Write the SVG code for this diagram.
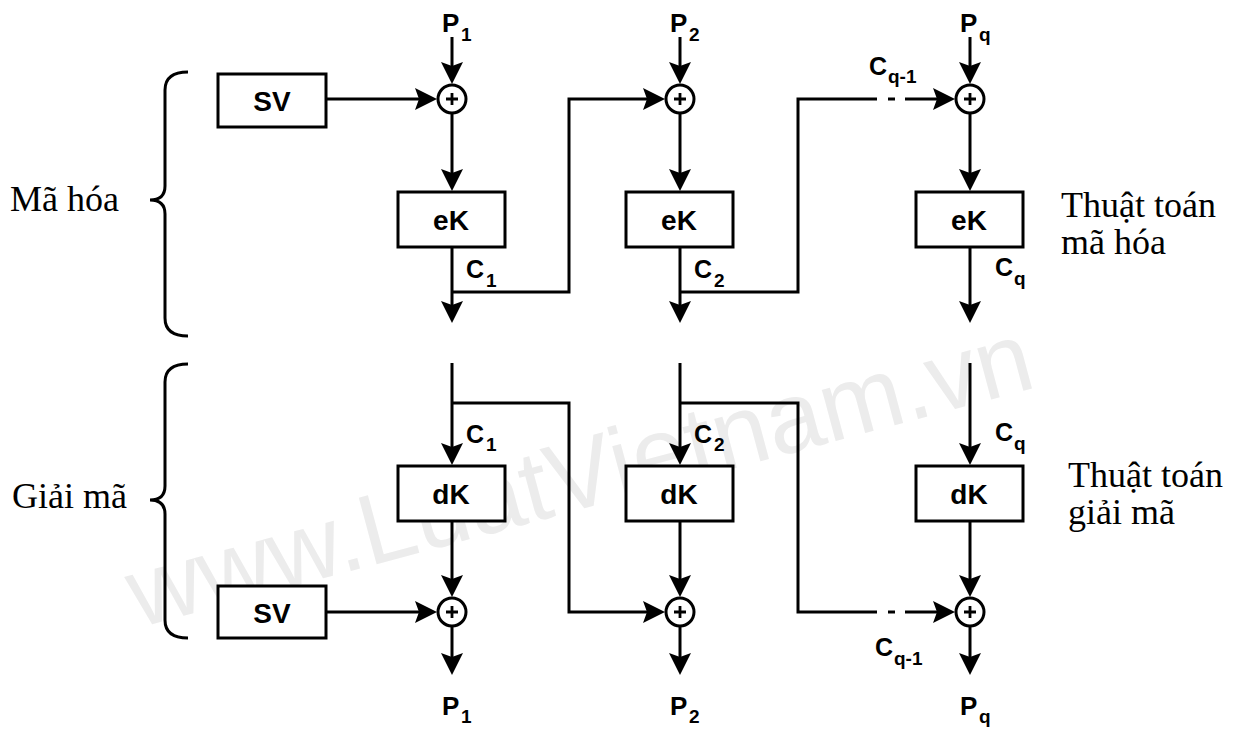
<svg xmlns="http://www.w3.org/2000/svg" width="1234" height="729" viewBox="0 0 1234 729">
  <style>
    .ln { fill: none; stroke: #000; stroke-width: 3; }
    .arr { fill: none; stroke: #000; stroke-width: 3; marker-end: url(#ah); }
    .box { fill: #fff; stroke: #000; stroke-width: 3; }
    .xor { fill: #fff; stroke: #000; stroke-width: 3; }
    .plus { fill: none; stroke: #000; stroke-width: 2.8; }
    .lbl { font-family: "Liberation Sans", Arial, sans-serif; font-size: 26px; font-weight: bold; fill: #000; }
    .bx { font-family: "Liberation Sans", Arial, sans-serif; font-size: 28px; font-weight: bold; fill: #000; text-anchor: middle; }
    .sub { font-family: "Liberation Sans", Arial, sans-serif; font-size: 19px; font-weight: bold; fill: #000; }
    .cl { font-family: "Liberation Sans", Arial, sans-serif; font-size: 25px; font-weight: bold; fill: #000; }
    .vn { font-family: "Liberation Serif", "Times New Roman", serif; font-size: 36px; fill: #000; }
    .wm { font-family: "Liberation Sans", Arial, sans-serif; font-size: 100px; fill: #ececec; }
  </style>
  <defs>
    <marker id="ah" viewBox="0 0 22 22" refX="16" refY="11" markerWidth="22" markerHeight="22" markerUnits="userSpaceOnUse" orient="auto">
      <path d="M0,0 L22,11 L0,22 L4,11 z" fill="#000"/>
    </marker>
    <g id="xorsym">
      <circle class="xor" cx="0" cy="0" r="14"/>
      <path class="plus" d="M-6,0 H6 M0,-6 V6"/>
    </g>
  </defs>
  <rect width="1234" height="729" fill="#fff"/>

  <!-- watermark -->
  <text class="wm" x="138" y="628" transform="rotate(-15 138 628)">www.LuatVietnam.vn</text>

  <!-- braces and section labels -->
  <g id="enc-brace">
    <path class="ln" d="M188,72 Q165,72 165,90 L165,186 Q165,200 150,200 Q165,200 165,214 L165,318 Q165,336 188,336"/>
    <text class="vn" x="10" y="211">Mã hóa</text>
  </g>
  <g id="dec-brace">
    <path class="ln" d="M188,364 Q165,364 165,382 L165,486 Q165,500 150,500 Q165,500 165,514 L165,620 Q165,638 188,638"/>
    <text class="vn" x="12" y="508">Giải mã</text>
  </g>
  <g id="enc-title">
    <text class="vn" x="1061" y="217">Thuật toán</text>
    <text class="vn" x="1061" y="254">mã hóa</text>
  </g>
  <g id="dec-title">
    <text class="vn" x="1068" y="487">Thuật toán</text>
    <text class="vn" x="1068" y="524">giải mã</text>
  </g>

  <!-- connectors -->
  <g id="connectors">
    <!-- encryption -->
    <line class="arr" x1="452" y1="37" x2="452" y2="78"/>
    <line class="arr" x1="680" y1="37" x2="680" y2="78"/>
    <line class="arr" x1="970" y1="37" x2="970" y2="78"/>
    <line class="arr" x1="326" y1="99" x2="431" y2="99"/>
    <line class="arr" x1="452" y1="113" x2="452" y2="185"/>
    <line class="arr" x1="680" y1="113" x2="680" y2="185"/>
    <line class="arr" x1="970" y1="113" x2="970" y2="185"/>
    <line class="arr" x1="452" y1="247" x2="452" y2="317"/>
    <line class="arr" x1="680" y1="247" x2="680" y2="317"/>
    <line class="arr" x1="970" y1="247" x2="970" y2="317"/>
    <polyline class="arr" points="452,292 569,292 569,99 659,99"/>
    <polyline class="ln" points="680,292 798,292 798,99 877,99"/>
    <line class="ln" x1="888" y1="99" x2="895" y2="99"/>
    <line class="arr" x1="905" y1="99" x2="949" y2="99"/>
    <!-- decryption -->
    <line class="arr" x1="452" y1="363" x2="452" y2="459"/>
    <line class="arr" x1="680" y1="363" x2="680" y2="459"/>
    <line class="arr" x1="970" y1="363" x2="970" y2="459"/>
    <line class="arr" x1="452" y1="521" x2="452" y2="591"/>
    <line class="arr" x1="680" y1="521" x2="680" y2="591"/>
    <line class="arr" x1="970" y1="521" x2="970" y2="591"/>
    <line class="arr" x1="326" y1="612" x2="431" y2="612"/>
    <line class="arr" x1="452" y1="626" x2="452" y2="669"/>
    <line class="arr" x1="680" y1="626" x2="680" y2="669"/>
    <line class="arr" x1="970" y1="626" x2="970" y2="669"/>
    <polyline class="arr" points="452,403 569,403 569,612 659,612"/>
    <polyline class="ln" points="680,403 798,403 798,612 877,612"/>
    <line class="ln" x1="888" y1="612" x2="895" y2="612"/>
    <line class="arr" x1="905" y1="612" x2="949" y2="612"/>
  </g>

  <!-- connector labels -->
  <g id="conn-labels">
    <text class="lbl" x="442" y="32">P</text><text class="sub" x="461" y="41">1</text>
    <text class="lbl" x="670" y="32">P</text><text class="sub" x="689" y="41">2</text>
    <text class="lbl" x="960" y="32">P</text><text class="sub" x="979" y="41">q</text>
    <text class="cl" x="869" y="75">C</text><text class="sub" x="888" y="83">q-1</text>
    <text class="cl" x="466" y="278">C</text><text class="sub" x="486" y="287">1</text>
    <text class="cl" x="694" y="278">C</text><text class="sub" x="714" y="287">2</text>
    <text class="cl" x="995" y="276">C</text><text class="sub" x="1014" y="285">q</text>
    <text class="cl" x="466" y="443">C</text><text class="sub" x="486" y="451">1</text>
    <text class="cl" x="694" y="443">C</text><text class="sub" x="714" y="451">2</text>
    <text class="cl" x="995" y="441">C</text><text class="sub" x="1014" y="450">q</text>
    <text class="cl" x="875" y="656">C</text><text class="sub" x="894" y="665">q-1</text>
    <text class="lbl" x="442" y="715">P</text><text class="sub" x="461" y="723">1</text>
    <text class="lbl" x="670" y="715">P</text><text class="sub" x="689" y="723">2</text>
    <text class="lbl" x="960" y="715">P</text><text class="sub" x="979" y="723">q</text>
  </g>

  <!-- nodes: encryption -->
  <g id="sv-enc"><rect class="box" x="218" y="74" width="108" height="53"/><text class="bx" x="272" y="111">SV</text></g>
  <g id="xor-e1"><use href="#xorsym" x="452" y="99"/></g>
  <g id="xor-e2"><use href="#xorsym" x="680" y="99"/></g>
  <g id="xor-eq"><use href="#xorsym" x="970" y="99"/></g>
  <g id="ek1"><rect class="box" x="398" y="192" width="107" height="55"/><text class="bx" x="451" y="230">eK</text></g>
  <g id="ek2"><rect class="box" x="626" y="192" width="107" height="55"/><text class="bx" x="679" y="230">eK</text></g>
  <g id="ekq"><rect class="box" x="916" y="192" width="107" height="55"/><text class="bx" x="969" y="230">eK</text></g>

  <!-- nodes: decryption -->
  <g id="dk1"><rect class="box" x="398" y="466" width="107" height="55"/><text class="bx" x="451" y="504">dK</text></g>
  <g id="dk2"><rect class="box" x="626" y="466" width="107" height="55"/><text class="bx" x="679" y="504">dK</text></g>
  <g id="dkq"><rect class="box" x="916" y="466" width="107" height="55"/><text class="bx" x="969" y="504">dK</text></g>
  <g id="sv-dec"><rect class="box" x="218" y="586" width="108" height="52"/><text class="bx" x="272" y="623">SV</text></g>
  <g id="xor-d1"><use href="#xorsym" x="452" y="612"/></g>
  <g id="xor-d2"><use href="#xorsym" x="680" y="612"/></g>
  <g id="xor-dq"><use href="#xorsym" x="970" y="612"/></g>
</svg>
